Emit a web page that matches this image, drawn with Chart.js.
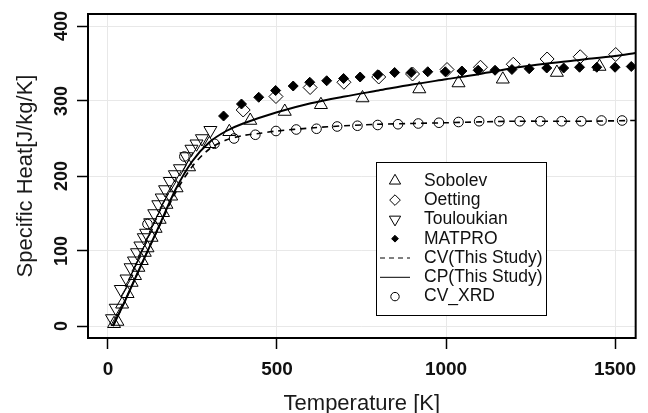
<!DOCTYPE html>
<html><head><meta charset="utf-8">
<script src="https://cdn.jsdelivr.net/npm/chart.js@4/dist/chart.umd.min.js"></script>
<style>html,body{margin:0;padding:0;background:#fff}#wrap{width:648px;height:413px}</style>
</head><body><div id="wrap"><canvas id="c" width="648" height="413"></canvas></div>
<script>
// ---- data ----
const xTicks = [0, 500, 1000, 1500];
const yTicks = [0, 100, 200, 300, 400];

const sobolevT  = [18, 28, 42, 58, 70, 80, 90, 100, 109, 117, 129, 141, 153, 163, 173, 187, 203, 240, 300, 359, 421, 523, 630, 753, 921, 1037, 1168, 1328, 1454];
const sobolevCp = [3, 6, 29, 43, 58, 67, 78, 87, 98, 104, 118, 130, 142, 151, 162, 173, 184, 212, 243, 259, 274, 286, 295, 304, 316, 324, 329, 338, 346];

const oettingT  = [400, 497, 598, 698, 801, 901, 1003, 1102, 1199, 1299, 1397, 1502];
const oettingCp = [288, 306, 318, 325, 332, 336, 342, 345, 349, 356, 359, 362];

const touloukianT  = [12, 23, 38, 55, 67, 77, 86, 96, 106, 113, 125, 137, 149, 159, 169, 183, 198, 213, 232, 247, 262, 278, 303];
const touloukianCp = [10, 24, 49, 63, 78, 87, 98, 107, 118, 124, 138, 150, 162, 171, 182, 193, 202, 210, 226, 236, 243, 250, 261];

const matproT  = [342, 395, 446, 496, 548, 597, 647, 697, 746, 798, 848, 897, 946, 998, 1047, 1095, 1145, 1195, 1246, 1298, 1348, 1395, 1446, 1500, 1548];
const matproCp = [280, 296, 305, 314, 320, 325, 327, 330, 332, 335, 338, 338, 339, 339, 340, 341, 341, 342, 343, 344, 344, 345, 345, 345, 346];

const cvT  = [15, 50, 100, 150, 200, 250, 300, 350, 400, 450, 500, 600, 700, 800, 900, 1000, 1200, 1400, 1560];
const cvCp = [0, 33, 83, 131, 178, 213, 236, 248, 254, 257, 260, 264, 267, 269, 270, 271, 273, 273, 274];

const cpT  = [15, 50, 100, 150, 200, 250, 300, 350, 400, 500, 600, 700, 800, 900, 1000, 1100, 1200, 1300, 1400, 1500, 1560];
const cpCp = [0, 33, 83, 132, 182, 220, 245, 260, 270, 285, 297, 306, 314, 322, 329, 336, 344, 350, 355, 360, 364];

const xrdT  = [117, 226, 315, 373, 436, 497, 557, 617, 678, 738, 798, 858, 918, 979, 1037, 1098, 1158, 1218, 1279, 1342, 1400, 1460, 1521];
const xrdCp = [136, 226, 243, 250, 255, 260, 262, 263, 266, 267, 268, 269, 270, 271, 272, 273, 273, 273, 273, 273, 273, 274, 274];

const legendLabels = ['Sobolev', 'Oetting', 'Touloukian', 'MATPRO', 'CV(This Study)', 'CP(This Study)', 'CV_XRD'];
const xTitle = 'Temperature [K]';
const yTitle = 'Specific Heat[J/kg/K]';

// ---- build ----
const pts = (xs, ys) => xs.map((x, i) => ({x: x, y: ys[i]}));
const FONT = '"Liberation Sans", Arial, Helvetica, sans-serif';

const markerBase = {showLine: false, pointBorderColor: '#000', pointBackgroundColor: 'rgba(0,0,0,0)', pointBorderWidth: 1, pointHoverRadius: 0};

const datasets = [
  Object.assign({}, markerBase, {label: legendLabels[0], data: pts(sobolevT, sobolevCp), pointStyle: 'triangle', pointRadius: 7.5}),
  Object.assign({}, markerBase, {label: legendLabels[1], data: pts(oettingT, oettingCp), pointStyle: 'rectRot', pointRadius: 7}),
  Object.assign({}, markerBase, {label: legendLabels[2], data: pts(touloukianT, touloukianCp), pointStyle: 'triangle', pointRotation: 180, pointRadius: 7.5}),
  Object.assign({}, markerBase, {label: legendLabels[3], data: pts(matproT, matproCp), pointStyle: 'rectRot', pointRadius: 5, pointBackgroundColor: '#000'}),
  {label: legendLabels[4], data: pts(cvT, cvCp), showLine: true, pointRadius: 0, borderColor: '#000', borderWidth: 1.6, borderDash: [6, 5], tension: 0.3, fill: false},
  {label: legendLabels[5], data: pts(cpT, cpCp), showLine: true, pointRadius: 0, borderColor: '#000', borderWidth: 2, tension: 0.3, fill: false},
  Object.assign({}, markerBase, {label: legendLabels[6], data: pts(xrdT, xrdCp), pointStyle: 'circle', pointRadius: 4.8})
];

const legendStyles = [
  {pointStyle: 'triangle', radius: 6.5, rotation: 0, fill: false},
  {pointStyle: 'rectRot', radius: 5.3, rotation: 0, fill: false},
  {pointStyle: 'triangle', radius: 6.5, rotation: 180, fill: false},
  {pointStyle: 'rectRot', radius: 3.4, rotation: 0, fill: true},
  {line: true, dash: [5, 4]},
  {line: true, dash: []},
  {pointStyle: 'circle', radius: 4.2, rotation: 0, fill: false}
];

const framePlugin = {
  id: 'frameAndLegend',
  afterDraw(chart) {
    const ctx = chart.ctx;
    const a = chart.chartArea;
    ctx.save();
    ctx.strokeStyle = '#000';
    ctx.lineWidth = 2;
    ctx.strokeRect(a.left, a.top, a.right - a.left, a.bottom - a.top);

    // legend box
    const bx = 376, by = 162, bw = 171, bh = 154;
    ctx.fillStyle = '#fff';
    ctx.fillRect(bx, by, bw, bh);
    ctx.lineWidth = 1;
    ctx.strokeRect(bx + 0.5, by + 0.5, bw - 1, bh - 1);
    ctx.font = '17.5px ' + FONT;
    ctx.textBaseline = 'middle';
    ctx.textAlign = 'left';
    legendLabels.forEach((lab, i) => {
      const cy = 180.8 + i * 19.3;
      const st = legendStyles[i];
      ctx.strokeStyle = '#000';
      ctx.lineWidth = 1;
      if (st.line) {
        ctx.beginPath();
        ctx.setLineDash(st.dash);
        ctx.moveTo(380, cy); ctx.lineTo(410, cy);
        ctx.stroke();
        ctx.setLineDash([]);
      } else {
        ctx.fillStyle = st.fill ? '#000' : 'rgba(0,0,0,0)';
        Chart.helpers.drawPoint(ctx, {pointStyle: st.pointStyle, radius: st.radius, rotation: st.rotation, borderWidth: 1}, 395, cy);
      }
      ctx.fillStyle = '#111';
      ctx.fillText(lab, 424, cy);
    });
    ctx.restore();
  }
};

const gridOpts = {color: '#e8e8e8', lineWidth: 1, tickColor: '#000', tickLength: 11, tickWidth: 1.5};
const plainLabel = v => String(v);

new Chart(document.getElementById('c'), {
  type: 'scatter',
  data: {datasets: datasets},
  options: {
    responsive: false,
    animation: false,
    events: [],
    layout: {padding: {top: 14, right: 3, bottom: 0, left: 0}},
    plugins: {legend: {display: false}, tooltip: {enabled: false}},
    scales: {
      x: {
        type: 'linear', position: 'bottom', min: -59, max: 1561,
        afterBuildTicks: s => { s.ticks = xTicks.map(v => ({value: v})); },
        afterFit: s => { s.height = 75; },
        grid: gridOpts,
        border: {display: false},
        ticks: {callback: plainLabel, font: {family: FONT, size: 19, weight: 'bold', lineHeight: 1}, color: '#111', padding: 11.5, maxRotation: 0, autoSkip: false},
        title: {display: true, text: xTitle, color: '#1a1a1a', font: {family: FONT, size: 22, lineHeight: 0.8}, padding: {top: 0, bottom: 0}}
      },
      y: {
        type: 'linear', position: 'left', min: -16, max: 416,
        afterBuildTicks: s => { s.ticks = yTicks.map(v => ({value: v})); },
        afterFit: s => { s.width = 88; },
        grid: gridOpts,
        border: {display: false},
        ticks: {callback: plainLabel, font: {family: FONT, size: 18, weight: 'bold', lineHeight: 1}, color: '#111', padding: 0, minRotation: 90, maxRotation: 90, crossAlign: 'center', autoSkip: false},
        title: {display: true, text: yTitle, color: '#1a1a1a', font: {family: FONT, size: 22, lineHeight: 0.8}, padding: {top: 17, bottom: 0}}
      }
    }
  },
  plugins: [framePlugin]
});
</script>
</body></html>
